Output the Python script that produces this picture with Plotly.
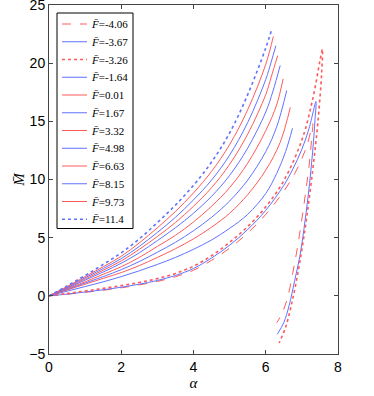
import plotly.graph_objects as go

# F-bar values shown in the legend
f_labels = ["-4.06", "-3.67", "-3.26", "-1.64", "0.01", "1.67",
            "3.32", "4.98", "6.63", "8.15", "9.73", "11.4"]

# lower branch curves (fold back down near alpha ~ 7.3-7.6)
alpha_m406 = [0, 0.5, 1, 1.5, 2, 2.5, 3, 3.5, 4, 4.5, 5, 5.5, 6, 6.5, 6.8, 7.0, 7.15, 7.3,
              7.27, 7.2, 7.1, 7.0, 6.88, 6.75, 6.6, 6.45, 6.31]
m_m406 = [0, 0.14, 0.3, 0.48, 0.69, 0.94, 1.24, 1.64, 2.2, 3.05, 4.1, 5.4, 7.0, 9.0, 10.5, 11.8, 13.0, 14.8,
          13.5, 11.2, 8.8, 6.6, 4.2, 2.0, -0.2, -1.5, -2.3]

alpha_m367 = [0, 0.5, 1, 1.5, 2, 2.5, 3, 3.5, 4, 4.5, 5, 5.5, 6, 6.5, 6.75, 7.0, 7.2, 7.39,
              7.36, 7.32, 7.25, 7.17, 7.06, 6.95, 6.8, 6.65, 6.5, 6.32]
m_m367 = [0, 0.15, 0.33, 0.52, 0.74, 1.0, 1.32, 1.75, 2.35, 3.25, 4.35, 5.7, 7.35, 9.5, 10.9, 12.6, 14.4, 16.7,
          15.0, 13.2, 10.8, 8.5, 5.8, 3.5, 1.3, -0.8, -2.3, -3.3]

alpha_m326 = [0, 0.5, 1, 1.5, 2, 2.5, 3, 3.5, 4, 4.5, 5, 5.5, 6, 6.5, 7.0, 7.3, 7.5, 7.57,
              7.55, 7.5, 7.44, 7.38, 7.3, 7.2, 7.1, 6.98, 6.85, 6.7, 6.55, 6.37]
m_m326 = [0, 0.2, 0.42, 0.64, 0.88, 1.15, 1.48, 1.92, 2.55, 3.45, 4.6, 5.95, 7.65, 9.9, 13.4, 16.9, 20.2, 21.2,
          19.3, 17.0, 14.8, 13.0, 10.8, 8.3, 6.0, 3.6, 1.3, -0.9, -2.7, -4.05]

# upper family of curves, sampled on a common alpha grid
alpha_up = [0, 0.5, 1, 1.5, 2, 2.5, 3, 3.5, 4, 4.5, 5, 5.5, 6]
m_m164 = [0, 0.4, 0.8, 1.2, 1.65, 2.15, 2.7, 3.3, 4.0, 4.8, 5.8, 7.0, 8.8]
m_001 = [0, 0.5, 1.0, 1.5, 2.0, 2.6, 3.3, 4.05, 4.9, 5.9, 7.1, 8.7, 10.8]
m_167 = [0, 0.55, 1.1, 1.65, 2.25, 2.95, 3.75, 4.6, 5.6, 6.75, 8.15, 9.95, 12.4]
m_332 = [0, 0.6, 1.2, 1.85, 2.5, 3.3, 4.25, 5.2, 6.35, 7.7, 9.3, 11.4, 14.2]
m_498 = [0, 0.65, 1.35, 2.05, 2.8, 3.7, 4.75, 5.85, 7.1, 8.55, 10.35, 12.7, 15.8]
m_663 = [0, 0.7, 1.45, 2.2, 3.0, 4.0, 5.1, 6.3, 7.7, 9.3, 11.3, 13.9, 17.3]
m_815 = [0, 0.75, 1.55, 2.35, 3.2, 4.25, 5.45, 6.75, 8.25, 9.95, 12.1, 14.9, 18.6]
m_973 = [0, 0.8, 1.65, 2.5, 3.4, 4.55, 5.85, 7.25, 8.85, 10.7, 13.0, 16.0, 19.9]
m_114 = [0, 0.85, 1.75, 2.7, 3.7, 4.9, 6.3, 7.8, 9.5, 11.5, 14.0, 17.3, 21.3]

# end pieces of the upper curves (alpha, M)
tail_m164 = ([6.3, 6.55, 6.74], [10.5, 12.4, 14.4])
tail_001 = ([6.4, 6.68], [13.2, 16.2])
tail_167 = ([6.3, 6.58], [14.5, 17.65])
tail_332 = ([6.3, 6.48], [16.4, 18.65])
tail_498 = ([6.2, 6.4], [17.6, 19.8])
tail_663 = ([6.15, 6.33], [18.8, 20.65])
tail_815 = ([6.15, 6.28], [20.1, 21.5])
tail_973 = ([6.21], [22.3])
tail_114 = ([6.16], [22.85])

RED = "rgb(255,90,90)"
BLUE = "rgb(95,115,255)"

series = [
    (alpha_m406, m_m406, RED, "dash"),
    (alpha_m367, m_m367, BLUE, "solid"),
    (alpha_m326, m_m326, RED, "dot"),
    (alpha_up + tail_m164[0], m_m164 + tail_m164[1], BLUE, "solid"),
    (alpha_up + tail_001[0], m_001 + tail_001[1], RED, "solid"),
    (alpha_up + tail_167[0], m_167 + tail_167[1], BLUE, "solid"),
    (alpha_up + tail_332[0], m_332 + tail_332[1], RED, "solid"),
    (alpha_up + tail_498[0], m_498 + tail_498[1], BLUE, "solid"),
    (alpha_up + tail_663[0], m_663 + tail_663[1], RED, "solid"),
    (alpha_up + tail_815[0], m_815 + tail_815[1], BLUE, "solid"),
    (alpha_up + tail_973[0], m_973 + tail_973[1], RED, "solid"),
    (alpha_up + tail_114[0], m_114 + tail_114[1], BLUE, "dot"),
]

W, H = 374, 396
ML, MR, MT, MB = 49, 36, 5, 42


def px_x(p):
    return (p - ML) / (W - ML - MR)


def px_y(p):
    return (H - MB - p) / (H - MT - MB)


fig = go.Figure()
# legend drawn by hand so its size matches the original
shapes = [dict(type="rect", xref="paper", yref="paper",
               x0=px_x(57), x1=px_x(133), y0=px_y(228.5), y1=px_y(13),
               fillcolor="white", line=dict(color="black", width=1))]
annotations = []
for i, (lab, (xs, ys, col, dash)) in enumerate(zip(f_labels, series)):
    width = 1.6 if dash == "dot" else 1
    fig.add_trace(go.Scatter(
        x=xs, y=ys, mode="lines", name="F=" + lab, showlegend=False,
        line=dict(color=col, width=width, dash=dash, shape="spline", smoothing=1.0),
    ))
    yc = 24 + 17.75 * i
    shapes.append(dict(type="line", xref="paper", yref="paper",
                       x0=px_x(62), x1=px_x(87), y0=px_y(yc), y1=px_y(yc),
                       line=dict(color=col, width=width, dash=dash)))
    annotations.append(dict(xref="paper", yref="paper", x=px_x(89), y=px_y(yc),
                            xanchor="left", yanchor="middle", showarrow=False,
                            text="<i>F̄</i>=" + lab,
                            font=dict(family="Liberation Serif", size=11, color="black")))

axis_common = dict(
    showgrid=False, zeroline=False, showline=True, mirror="ticks",
    linecolor="#444", linewidth=1, ticks="inside", ticklen=4,
    tickcolor="#444", automargin=False, ticklabeloverflow="allow",
    tickfont=dict(family="Liberation Sans, Arial", size=14, color="black"),
)
title_font = dict(family="Liberation Serif", size=15, color="black")

fig.update_layout(
    width=W, height=H,
    margin=dict(l=ML, r=MR, t=MT, b=MB),
    paper_bgcolor="white", plot_bgcolor="white",
    xaxis=dict(range=[0, 8], tickvals=[0, 2, 4, 6, 8],
               title=dict(text="<i>α</i>", standoff=0, font=title_font),
               **axis_common),
    yaxis=dict(range=[-5, 25], tickvals=[-5, 0, 5, 10, 15, 20, 25],
               title=dict(text="<i>M̄</i>", standoff=0, font=title_font),
               **axis_common),
    shapes=shapes,
    annotations=annotations,
    showlegend=False,
)

fig.write_html("out.html", config={"displayModeBar": False},
               post_script="document.body.style.margin='0px';")
